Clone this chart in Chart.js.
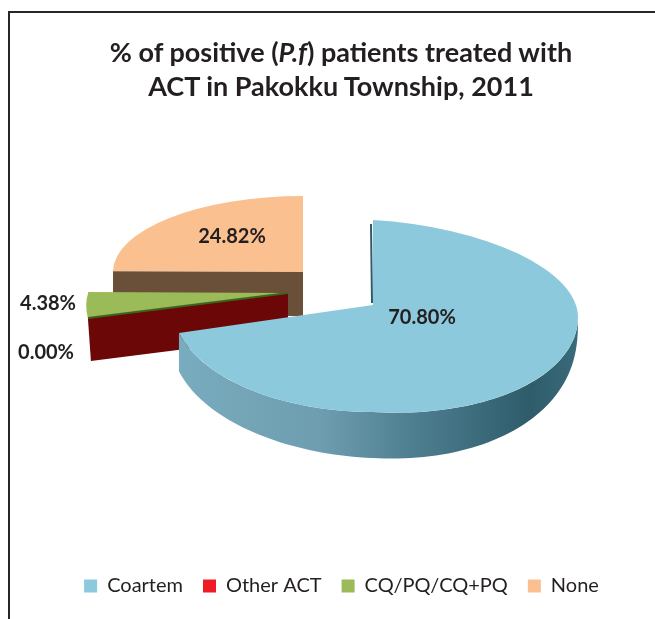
<!DOCTYPE html>
<html>
<head>
<meta charset="utf-8">
<script src="https://cdn.jsdelivr.net/npm/chart.js@4"></script>
<style>
html,body{margin:0;padding:0;background:#fff;width:655px;height:619px;overflow:hidden}
#wrap{position:relative;width:655px;height:619px;overflow:hidden}
#frame{position:absolute;left:8px;top:11px;right:-5px;bottom:-5px;border-left:2px solid #2a2627;border-top:2px solid #2a2627}
canvas{position:absolute;left:0;top:0}
#title{position:absolute;left:27px;width:628px;top:35px;text-align:center;font:bold 27px/34px Lato,sans-serif;color:#231f20}
</style>
</head>
<body>
<div id="wrap">
<div id="frame"></div>
<canvas id="c" width="655" height="619"></canvas>
<div id="title">% of positive (<i>P.f</i>) patients treated with<br>ACT in Pakokku Township, 2011</div>
</div>
<script>
const categories = ['Coartem', 'Other ACT', 'CQ/PQ/CQ+PQ', 'None'];
const percentValues = [70.80, 0.00, 4.38, 24.82];
const sliceColors = ['#8CC9DC', '#EE1C25', '#9BBB59', '#FAC090'];

// Where each exploded slice lands on the page (3D look: squashed, perspective-like)
const frames = [
  {x: 373, y: 305, rx: 205},
  {x: 288, y: 293, rx: 200, ry: 96, skew: -0.28},
  {x: 288, y: 293, rx: 200, ry: 96, skew: -0.28},
  {x: 303, y: 272, rx: 190, ry: 76, skew: 0}
];
const blueUp = 85, blueDown = 107, blueShear = 0.06, blueDepth = 46, blueLeftRx = 201;
const labelSpots = [[422, 318], [46, 353], [48, 304], [232, 237]];

function place(ctx, arc, f, rx, ry, shear, skew) {
  const s = rx / arc.outerRadius, t = ry / arc.outerRadius;
  ctx.transform(s, shear * s, skew * t, t,
    f.x - s * arc.x - skew * t * arc.y,
    f.y - t * arc.y - shear * s * arc.x);
}
function simpleFace(ctx, arc, f) {
  ctx.save();
  place(ctx, arc, f, f.rx, f.ry, 0, f.skew);
  arc.draw(ctx);
  ctx.restore();
}
function edgePoint(f, a) {
  const dy = f.ry * Math.sin(a);
  return [f.x + f.rx * Math.cos(a) + f.skew * dy, f.y + dy];
}
function blueEdge(a) {
  const f = frames[0];
  const right = Math.cos(a) > 0;
  const ry = Math.sin(a) < 0 ? blueUp : blueDown;
  const x = f.x + (right ? f.rx : blueLeftRx) * Math.cos(a);
  return [x, f.y + ry * Math.sin(a) + (right ? blueShear * (x - f.x) : 0)];
}
function blueDepthAt(a) {
  return Math.cos(a) > 0 ? blueDepth * Math.sqrt(Math.max(0, Math.sin(a)))
                         : blueDepth + 8 * Math.cos(a);
}
function wallPoly(ctx, pts, fill) {
  ctx.beginPath();
  pts.forEach((p, i) => i ? ctx.lineTo(p[0], p[1]) : ctx.moveTo(p[0], p[1]));
  ctx.closePath();
  ctx.fillStyle = fill;
  ctx.fill();
}

const pie3d = {
  id: 'pie3d',
  beforeDatasetsDraw(chart) {
    const ctx = chart.ctx;
    const arcs = chart.getDatasetMeta(0).data;
    const [blue, other, green, orange] = arcs;

    // None: top face + front wall
    simpleFace(ctx, orange, frames[3]);
    const oTip = edgePoint(frames[3], orange.startAngle);
    const oA = [frames[3].x, frames[3].y];
    wallPoly(ctx, [oA, oTip, [oTip[0], oTip[1] + 44], [oA[0], oA[1] + 44]], '#6B5039');

    // CQ/PQ: top face
    simpleFace(ctx, green, frames[2]);
    // Other ACT: zero-width slice, only its cut wall shows
    const rf = frames[1];
    const rTip = edgePoint(rf, other.endAngle);
    const rA = [rf.x, rf.y];
    wallPoly(ctx, [rA, rTip, [rTip[0] + 3, rTip[1] + 43], [rA[0], rA[1] + 43]], '#6B0707');
    ctx.strokeStyle = '#3C6320';
    ctx.lineWidth = 2;
    ctx.beginPath(); ctx.moveTo(rA[0], rA[1]); ctx.lineTo(rTip[0], rTip[1]); ctx.stroke();

    // Coartem: outer wall
    const steps = 90, top = [], bottom = [];
    for (let i = 0; i <= steps; i++) {
      const a = 0.02 + (blue.endAngle - 0.02) * i / steps;
      const p = blueEdge(a);
      top.push(p);
      bottom.unshift([p[0], p[1] + blueDepthAt(a)]);
    }
    const g = ctx.createLinearGradient(178, 0, 578, 0);
    g.addColorStop(0, '#78ACBE');
    g.addColorStop(0.35, '#6E9EAF');
    g.addColorStop(0.6, '#4C7D8F');
    g.addColorStop(0.88, '#2E5C6B');
    g.addColorStop(1, '#3A6B7A');
    wallPoly(ctx, top.concat(bottom), g);

    // Coartem: top face, piecewise for the perspective bulge
    const f = frames[0];
    const R = [
      {clip: [[0, f.y], [f.x + 0.5, f.y], [f.x + 0.5, 619], [0, 619]], rx: blueLeftRx, ry: blueDown, sh: 0},
      {clip: [[f.x, 0], [655, 0], [655, f.y + blueShear * (655 - f.x) + 0.5], [f.x, f.y + 0.5]], rx: f.rx, ry: blueUp, sh: blueShear},
      {clip: [[f.x, f.y - 0.5], [655, f.y + blueShear * (655 - f.x) - 0.5], [655, 619], [f.x, 619]], rx: f.rx, ry: blueDown, sh: blueShear}
    ];
    R.forEach(r => {
      ctx.save();
      ctx.beginPath();
      r.clip.forEach((p, i) => i ? ctx.lineTo(p[0], p[1]) : ctx.moveTo(p[0], p[1]));
      ctx.closePath();
      ctx.clip();
      place(ctx, blue, f, r.rx, r.ry, r.sh, 0);
      blue.draw(ctx);
      ctx.restore();
    });
    // thin dark cut wall at the top of the Coartem slit
    ctx.strokeStyle = '#2F5A68';
    ctx.lineWidth = 2;
    ctx.beginPath(); ctx.moveTo(f.x - 2, 224); ctx.lineTo(f.x - 1, 303); ctx.stroke();

    // value labels
    ctx.font = 'bold 20px Lato, sans-serif';
    ctx.textAlign = 'center';
    ctx.textBaseline = 'middle';
    ctx.fillStyle = '#231F20';
    percentValues.forEach((v, i) => {
      ctx.fillText(v.toFixed(2) + '%', labelSpots[i][0], labelSpots[i][1]);
    });
    return false;
  }
};

new Chart(document.getElementById('c'), {
  type: 'pie',
  data: {
    labels: categories,
    datasets: [{data: percentValues, backgroundColor: sliceColors, borderWidth: 0}]
  },
  options: {
    responsive: false,
    animation: false,
    layout: {padding: {bottom: 13, left: 28, right: 0}},
    plugins: {
      tooltip: {enabled: false},
      title: {display: false},
      legend: {
        position: 'bottom',
        labels: {
          boxWidth: 13, boxHeight: 13, padding: 20,
          color: '#231F20',
          font: {family: 'Lato, sans-serif', size: 20}
        }
      }
    }
  },
  plugins: [pie3d]
});
</script>
</body>
</html>
